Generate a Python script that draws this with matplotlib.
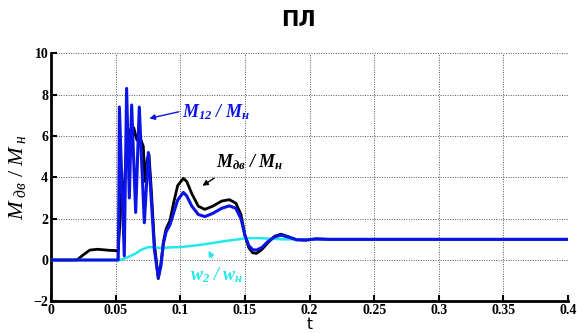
import matplotlib
matplotlib.use("Agg")
import matplotlib.pyplot as plt

# M_dv / M_n (black)
t_black = [0, 0.020, 0.025, 0.030, 0.036, 0.045, 0.0515, 0.052, 0.0535, 0.055, 0.0565,
           0.058, 0.0595, 0.061, 0.0625, 0.064, 0.0665, 0.069, 0.0714, 0.0727, 0.0745,
           0.0758, 0.0775, 0.080, 0.083, 0.085, 0.087, 0.089, 0.092, 0.095, 0.098,
           0.1024, 0.105, 0.109, 0.114, 0.119, 0.125, 0.132, 0.138, 0.143, 0.147,
           0.150, 0.153, 0.156, 0.159, 0.163, 0.168, 0.173, 0.178, 0.184, 0.190,
           0.197, 0.205, 0.215, 0.4]
y_black = [0, 0, 0.25, 0.48, 0.52, 0.47, 0.45, 0.45, 2.0, 3.8, 3.2,
           5.0, 4.5, 6.3, 5.6, 6.4, 5.8, 5.9, 5.5, 3.8, 4.9,
           5.1, 3.5, 0.8, -0.9, -0.2, 0.9, 1.5, 1.9, 2.8, 3.6,
           3.95, 3.8, 3.2, 2.6, 2.45, 2.6, 2.85, 2.92, 2.75, 2.2,
           1.2, 0.6, 0.35, 0.32, 0.5, 0.85, 1.15, 1.25, 1.12, 0.98,
           0.96, 1.02, 1.0, 1.0]

# M_12 / M_n (blue)
t_blue = [0, 0.052, 0.0525, 0.0529, 0.0567, 0.0585, 0.0606, 0.0624, 0.0655, 0.0683,
          0.0722, 0.0753, 0.0775, 0.080, 0.083, 0.085, 0.087, 0.089, 0.092, 0.095,
          0.098, 0.1024, 0.105, 0.109, 0.114, 0.119, 0.125, 0.132, 0.138, 0.143,
          0.147, 0.150, 0.153, 0.156, 0.159, 0.163, 0.168, 0.173, 0.178, 0.184,
          0.190, 0.197, 0.205, 0.215, 0.4]
y_blue = [0, 0, 3.0, 7.4, 0.2, 8.3, 3.0, 7.5, 2.3, 7.4,
          1.8, 5.2, 3.0, 0.5, -0.85, -0.3, 0.8, 1.35, 1.7, 2.3,
          2.9, 3.27, 3.1, 2.6, 2.2, 2.1, 2.25, 2.5, 2.62, 2.5,
          2.0, 1.2, 0.7, 0.5, 0.48, 0.6, 0.9, 1.12, 1.2, 1.1,
          0.98, 0.97, 1.02, 1.0, 1.0]

# w_2 / w_n (cyan)
t_cyan = [0, 0.053, 0.056, 0.060, 0.065, 0.070, 0.075, 0.080, 0.0857, 0.090, 0.095,
          0.100, 0.108, 0.115, 0.125, 0.135, 0.145, 0.152, 0.160, 0.170, 0.180, 0.4]
y_cyan = [0, 0, 0.05, 0.15, 0.3, 0.5, 0.62, 0.62, 0.57, 0.6, 0.62,
          0.62, 0.68, 0.73, 0.82, 0.92, 1.0, 1.06, 1.06, 1.03, 1.0, 1.0]

x_ticks = [0, 0.05, 0.1, 0.15, 0.2, 0.25, 0.3, 0.35, 0.4]
x_tick_labels = ["0", "0.05", "0.1", "0.15", "0.2", "0.25", "0.3", "0.35", "0.4"]
y_ticks = [-2, 0, 2, 4, 6, 8, 10]

plt.rcParams["mathtext.fontset"] = "custom"
plt.rcParams["mathtext.rm"] = "Liberation Serif"
plt.rcParams["mathtext.it"] = "Liberation Serif:italic"
plt.rcParams["mathtext.bf"] = "Liberation Serif:italic:bold"

fig = plt.figure(figsize=(5.77, 3.33), dpi=100)
ax = fig.add_axes([0.0884, 0.095, 0.896, 0.745])

ax.plot(t_black, y_black, color="black", lw=2.0, zorder=3)
ax.plot(t_cyan, y_cyan, color="#22e8e8", lw=1.8, zorder=4)
ax.plot(t_blue, y_blue, color="#0a14e6", lw=2.2, zorder=5)

ax.set_xlim(0, 0.4)
ax.set_ylim(-2, 10)
ax.set_xticks(x_ticks)
ax.set_xticklabels(x_tick_labels)
ax.set_yticks(y_ticks)
for lab in ax.get_xticklabels() + ax.get_yticklabels():
    lab.set_family("Liberation Serif")
    lab.set_weight("bold")
    lab.set_size(10)
ax.tick_params(direction="in", length=4, width=1.5, pad=2)

for s in ["top", "right"]:
    ax.spines[s].set_visible(False)
for s in ["left", "bottom"]:
    ax.spines[s].set_linewidth(2)

ax.grid(True, color="#555555", linestyle=(0, (1, 1.5)), linewidth=0.7)

ax.set_xlabel("t", fontsize=11, labelpad=0)
ax.set_ylabel(r"$M_{\ дв}\ /\ M_{\ н}$", fontsize=16, labelpad=4)

# annotations
ax.text(0.1014, 7.16, r"$\mathbf{M_{12}\ /\ M_{н}}$", color="#0a14e6", fontsize=13,
        ha="left", va="center")
ax.annotate("", xy=(0.074, 6.82), xytext=(0.1010, 7.2),
            arrowprops=dict(arrowstyle="-|>", color="#0a14e6", lw=1, mutation_scale=8))

ax.text(0.128, 4.74, r"$\mathbf{M_{дв}\ /\ M_{н}}$", color="black", fontsize=13,
        ha="left", va="center")
ax.annotate("", xy=(0.1153, 3.52), xytext=(0.128, 4.03),
            arrowprops=dict(arrowstyle="-|>", color="black", lw=1, mutation_scale=8))

ax.text(0.1075, -0.73, r"$\mathbf{w_{2}\ /\ w_{н}}$", color="#22e8e8", fontsize=13,
        ha="left", va="center")
ax.annotate("", xy=(0.121, 0.57), xytext=(0.1256, 0.0),
            arrowprops=dict(arrowstyle="-|>", color="#22e8e8", lw=1, mutation_scale=8))

fig.text(0.518, 0.94, "ПЛ", fontsize=15, fontweight="bold", ha="center", va="center")

fig.savefig("out.png", dpi=100)
